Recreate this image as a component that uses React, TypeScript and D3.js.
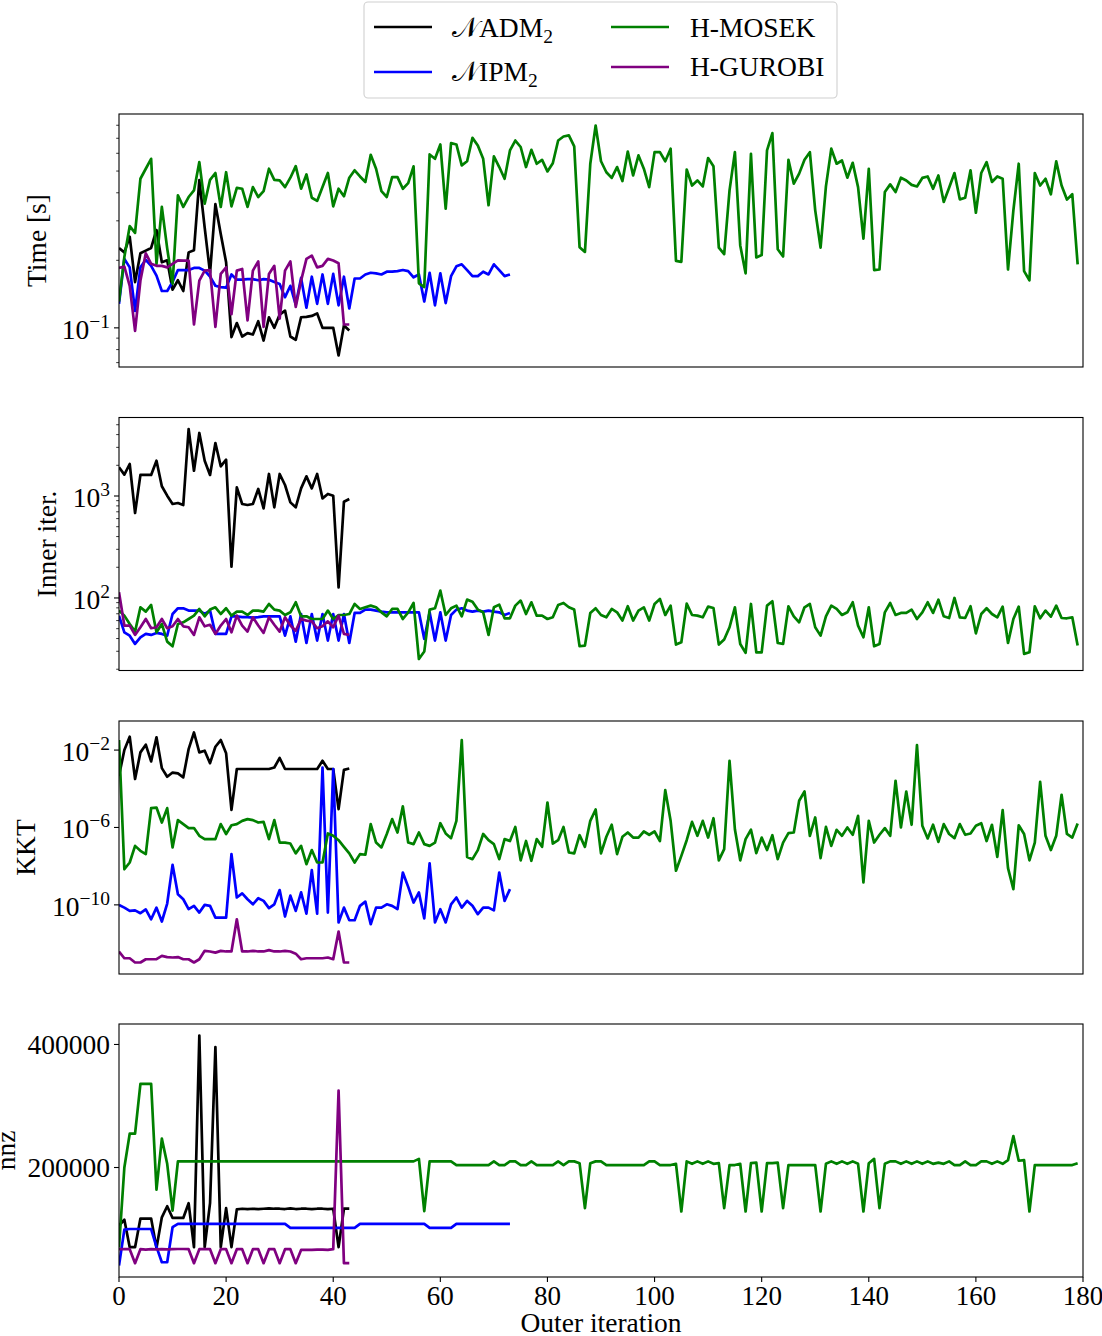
import React, { useRef, useEffect } from 'react';
import * as d3 from 'd3';

// values (index = outer iteration)
const timeADM = [
  0.227, 0.217, 0.255, 0.16, 0.215, 0.221, 0.227, 0.273, 0.196, 0.2,
  0.148, 0.163, 0.146, 0.217, 0.222, 0.456, 0.28, 0.176, 0.356, 0.262,
  0.196, 0.091, 0.105, 0.0915, 0.0947, 0.0934, 0.107, 0.0878, 0.1115, 0.1,
  0.1146, 0.1194, 0.0915, 0.0884, 0.1115, 0.112, 0.113, 0.116, 0.1, 0.1,
  0.1, 0.0753, 0.1024, 0.0973,
];
const timeIPM = [
  0.128, 0.203, 0.186, 0.119, 0.186, 0.201, 0.189, 0.171, 0.146, 0.146,
  0.16, 0.181, 0.181, 0.181, 0.185, 0.185, 0.18, 0.169, 0.154, 0.152,
  0.151, 0.173, 0.164, 0.164, 0.165, 0.165, 0.163, 0.165, 0.164, 0.16,
  0.157, 0.137, 0.154, 0.127, 0.167, 0.123, 0.169, 0.128, 0.173, 0.128,
  0.174, 0.126, 0.169, 0.122, 0.166, 0.166, 0.173, 0.176, 0.175, 0.173,
  0.178, 0.178, 0.179, 0.181, 0.179, 0.168, 0.173, 0.131, 0.176, 0.126,
  0.175, 0.129, 0.17, 0.188, 0.192, 0.181, 0.17, 0.17, 0.178, 0.173,
  0.192, 0.181, 0.17, 0.173,
];
const timeMOSEK = [
  0.131, 0.207, 0.284, 0.265, 0.462, 0.512, 0.567, 0.193, 0.346, 0.226,
  0.157, 0.39, 0.346, 0.383, 0.41, 0.548, 0.358, 0.457, 0.49, 0.346,
  0.494, 0.348, 0.421, 0.417, 0.346, 0.424, 0.383, 0.407, 0.512, 0.457,
  0.454, 0.424, 0.467, 0.526, 0.417, 0.483, 0.38, 0.368, 0.424, 0.49,
  0.348, 0.417, 0.386, 0.467, 0.504, 0.473, 0.447, 0.591, 0.512, 0.407,
  0.383, 0.47, 0.47, 0.417, 0.442, 0.525, 0.158, 0.152, 0.593, 0.567,
  0.657, 0.34, 0.666, 0.657, 0.53, 0.553, 0.703, 0.65, 0.567, 0.352,
  0.581, 0.521, 0.462, 0.618, 0.684, 0.64, 0.521, 0.622, 0.539, 0.561,
  0.498, 0.542, 0.684, 0.713, 0.721, 0.644, 0.229, 0.218, 0.539, 0.798,
  0.553, 0.494, 0.466, 0.521, 0.451, 0.611, 0.478, 0.587, 0.512, 0.424,
  0.607, 0.607, 0.553, 0.629, 0.199, 0.197, 0.508, 0.431, 0.454, 0.427,
  0.571, 0.525, 0.228, 0.213, 0.41, 0.607, 0.233, 0.175, 0.597, 0.206,
  0.211, 0.618, 0.738, 0.224, 0.208, 0.561, 0.439, 0.487, 0.561, 0.607,
  0.334, 0.228, 0.427, 0.629, 0.539, 0.557, 0.467, 0.544, 0.424, 0.25,
  0.512, 0.181, 0.182, 0.403, 0.436, 0.403, 0.467, 0.454, 0.434, 0.427,
  0.466, 0.473, 0.417, 0.478, 0.364, 0.421, 0.49, 0.374, 0.38, 0.504,
  0.326, 0.49, 0.548, 0.447, 0.473, 0.462, 0.182, 0.334, 0.539, 0.179,
  0.163, 0.49, 0.431, 0.462, 0.394, 0.552, 0.431, 0.373, 0.394, 0.192,
];
const timeGUROBI = [
  0.185, 0.1875, 0.154, 0.097, 0.1625, 0.215, 0.193, 0.189, 0.189, 0.186,
  0.193, 0.2, 0.1995, 0.1995, 0.1035, 0.1625, 0.18, 0.181, 0.101, 0.174,
  0.186, 0.115, 0.18, 0.183, 0.108, 0.18, 0.198, 0.101, 0.174, 0.189,
  0.11, 0.18, 0.198, 0.124, 0.1625, 0.203, 0.21, 0.186, 0.189, 0.203,
  0.1995, 0.194, 0.1035, 0.1035,
];

const innerADM = [
  1910, 1620, 2060, 681, 1610, 1610, 1610, 2220, 1245, 1007,
  835, 854, 816, 4540, 1770, 4150, 2220, 1610, 3310, 1955,
  2270, 203, 1216, 835, 816, 835, 1172, 757, 1644, 774,
  1644, 1282, 866, 774, 1188, 1559, 1188, 1644, 948, 1047,
  1007, 127, 879, 935,
];
const innerIPM = [
  67, 46, 42.7, 35.4, 41, 44.4, 43.4, 45.4, 44.4, 42.7,
  69.6, 79.2, 79.2, 75.2, 75.2, 75.2, 69.6, 75.2, 44.4, 44.4,
  44.4, 66.1, 66.1, 65, 65, 64.1, 65, 66.1, 66.1, 66.1,
  66.1, 42.7, 66.1, 37.3, 69.6, 36.2, 69.6, 38.2, 69.6, 38.2,
  69.6, 38.2, 69.6, 36.2, 71.3, 71.3, 76.9, 76.9, 75.2, 73.5,
  72.3, 72.3, 72.3, 72.3, 72.3, 72.3, 72.3, 39.6, 72.3, 38.2,
  72.3, 38.2, 68.1, 76.9, 79.2, 75.2, 73.5, 75.2, 73.5, 75.2,
  73.5, 72.3, 68.1, 71.3,
];
const innerMOSEK = [
  75.2, 67.1, 55.6, 46.8, 81, 73.5, 85.4, 46, 55.6, 37.3,
  33.6, 55.6, 57.7, 62.2, 67.1, 78, 66.1, 76.9, 81, 69.6,
  79.2, 67.1, 73.5, 73.5, 68.1, 75.2, 75.2, 73.5, 87.3, 76.9,
  75.2, 68.1, 72.3, 90.7, 66.1, 66.1, 62.2, 62.2, 62.2, 75.2,
  62.2, 68.1, 68.1, 69.6, 87.3, 78, 81, 84.1, 81, 72.3,
  66.1, 78, 78, 62.2, 72.3, 89.3, 25.2, 29.8, 76.9, 79.2,
  118, 68.1, 79.2, 84.1, 66.1, 96.3, 92, 76.9, 72.3, 43.4,
  81, 86, 63.2, 63.2, 84.1, 94.2, 69.6, 90.7, 67.1, 67.1,
  62.2, 64.6, 85.4, 89.3, 81, 76.9, 33.6, 34.1, 71.3, 79.2,
  68.1, 64.6, 78, 72.3, 60, 82.9, 60, 75.2, 81, 60,
  87.3, 97.8, 68.1, 84.1, 34.9, 36.8, 88, 68.1, 67.1, 64.6,
  82.2, 79.8, 34.9, 39.1, 51.6, 81, 35.4, 28.9, 87.3, 29.3,
  29.3, 84.1, 92.8, 36.2, 35.4, 82.9, 66.1, 57.7, 81, 87.3,
  51.6, 42.7, 66.1, 84.1, 78, 68.1, 72.3, 90.7, 53.6, 41.2,
  81, 33.6, 35.4, 72.3, 89.3, 68.1, 71.3, 71.3, 76.9, 62.2,
  72.3, 90.7, 71.3, 96.3, 66.1, 63.6, 100, 64.6, 63.6, 82.9,
  45, 69.6, 79.2, 69.6, 64.6, 82.2, 36.2, 62.2, 82.2, 28.3,
  29.3, 82.9, 63.2, 75.2, 65.6, 84.1, 63.6, 63.2, 64.6, 34.1,
];
const innerGUROBI = [
  113.6, 53.6, 53.6, 43.4, 51.6, 62.2, 50.5, 51.6, 62.2, 50.5,
  52.7, 62.2, 52.7, 51.6, 43.4, 64.6, 52.7, 54.6, 44.4, 53.6,
  62.2, 46, 67.1, 53.6, 46.8, 64.6, 53.6, 45.4, 64.6, 54.6,
  46.8, 64.6, 53.6, 47.7, 62.2, 60, 59, 50.5, 52.7, 59,
  51.6, 67.1, 44.4, 43.4,
];

const kktADM = [
  4.7e-4, 1e-2, 4.9e-2, 3.2e-4, 7.6e-3, 1.9e-2, 2.6e-3, 4.6e-2, 1.17e-3, 4.2e-4,
  6.9e-4, 6.2e-4, 3.9e-4, 1.12e-2, 8.1e-2, 7.6e-3, 9.3e-3, 2.1e-3, 1.48e-2, 3.3e-2,
  6.8e-3, 8.1e-6, 1.05e-3, 1.05e-3, 1.05e-3, 1.05e-3, 1.05e-3, 1.05e-3, 1.05e-3, 1.26e-3,
  3.9e-3, 1.05e-3, 1.05e-3, 1.05e-3, 1.05e-3, 1.05e-3, 1.05e-3, 1.05e-3, 2.8e-3, 1.05e-3,
  1.05e-3, 8.9e-6, 9.5e-4, 1.12e-3,
];
const kktIPM = [
  1e-10, 7.2e-11, 4.9e-11, 5.2e-11, 3.7e-11, 5.8e-11, 1.8e-11, 7.2e-11, 1.38e-11, 1.17e-10,
  1.17e-8, 3.5e-10, 1.95e-10, 6e-11, 8.9e-11, 4e-11, 1e-10, 8.9e-11, 2.2e-11, 2.2e-11,
  2.2e-11, 4.2e-8, 2.4e-10, 3.9e-10, 1.95e-10, 1.07e-10, 2.2e-10, 1.6e-10, 6.8e-11, 1.07e-10,
  5.8e-10, 2.5e-11, 3e-10, 4.9e-11, 4.4e-10, 3.5e-11, 6.2e-9, 3.5e-11, 1.26e-3, 4e-11,
  1.05e-3, 1.23e-11, 7.2e-11, 1.6e-11, 1.6e-11, 8.9e-11, 1.48e-10, 1e-11, 7.2e-11, 7.2e-11,
  1.07e-10, 8.9e-11, 6e-11, 4.7e-9, 8.5e-10, 1.32e-10, 4.4e-10, 2e-11, 1.38e-8, 1.23e-11,
  6e-11, 1.23e-11, 1.07e-10, 2.4e-10, 7.2e-11, 1.6e-10, 8.9e-11, 3.3e-11, 7.2e-11, 7.2e-11,
  5.2e-11, 4.7e-9, 1.6e-10, 6.5e-10,
];
const kktMOSEK = [
  3.3e-2, 6.9e-9, 1.55e-8, 1.12e-7, 6.2e-8, 4.2e-8, 1e-5, 1.07e-5, 1.8e-6, 1e-5,
  9.3e-8, 2.4e-6, 1.5e-6, 9.3e-7, 9.3e-7, 3.7e-7, 2.5e-7, 2.5e-7, 2.5e-7, 1.5e-6,
  4.6e-7, 1.3e-6, 1.5e-6, 2.2e-6, 2.7e-6, 2.4e-6, 1.8e-6, 1.95e-6, 2.5e-7, 2.4e-6,
  1.66e-7, 1.66e-7, 1.48e-7, 4.6e-8, 1.12e-7, 1.26e-8, 6.8e-8, 1.55e-8, 1.55e-8, 4.9e-7,
  3.7e-7, 2.2e-7, 1e-7, 4.6e-8, 1.55e-8, 4.2e-8, 3.9e-8, 1.5e-6, 1.66e-7, 9.3e-8,
  4.6e-7, 2.7e-6, 5.5e-7, 1.23e-5, 1.66e-7, 1.38e-7, 5.5e-7, 1.38e-7, 1.12e-7, 1.66e-7,
  1.66e-6, 4.9e-7, 2.8e-7, 2.2e-6, 3.3e-2, 3e-8, 2.3e-8, 6.8e-8, 4.6e-7, 2.2e-7,
  1.38e-7, 2.3e-8, 2.5e-7, 2e-7, 1.07e-6, 2e-8, 2e-7, 1.9e-8, 2.5e-7, 1e-7,
  1.95e-5, 1.48e-7, 2.2e-7, 1.07e-6, 5.1e-8, 4.6e-8, 4e-7, 1e-7, 2.2e-6, 8.5e-6,
  4.6e-8, 3.3e-7, 1.38e-6, 4.2e-8, 3.3e-7, 5.5e-7, 3e-7, 3e-7, 6.2e-7, 4.2e-7,
  6.2e-7, 2e-7, 8.5e-5, 2.2e-6, 5.8e-9, 3.4e-8, 2.2e-7, 1.95e-6, 3.7e-7, 2.2e-6,
  3e-7, 3e-6, 2e-8, 7.6e-8, 2.8e-3, 8.1e-7, 2e-8, 2.5e-7, 7.6e-7, 4.7e-8,
  3e-7, 6.8e-8, 4e-7, 2.3e-8, 1.66e-7, 5.1e-7, 5.5e-7, 2.4e-5, 7.2e-5, 3.7e-7,
  3.3e-6, 2.6e-8, 1.07e-6, 1.12e-7, 7.6e-7, 3.7e-7, 1e-6, 4.2e-7, 4e-6, 1.45e-9,
  2.2e-6, 1.66e-7, 4.2e-7, 9.3e-7, 3.7e-7, 2.6e-4, 1e-6, 7.2e-5, 1.38e-6, 1.8e-2,
  1.23e-6, 2.7e-7, 1.38e-6, 1.8e-7, 1.5e-6, 4.6e-7, 2.8e-7, 1.5e-6, 4.2e-7, 4.9e-7,
  1.23e-6, 1.66e-6, 2e-7, 1.38e-6, 3e-8, 7.9e-6, 7.9e-9, 6.5e-10, 1.3e-6, 4.6e-7,
  2e-8, 1.66e-7, 2.3e-4, 3.7e-7, 6.8e-8, 3.7e-7, 4.9e-5, 4.6e-7, 3e-7, 1.6e-6,
];
const kktGUROBI = [
  3.9e-13, 1.74e-13, 1.74e-13, 1.05e-13, 1.05e-13, 1.55e-13, 1.55e-13, 1.55e-13, 2.3e-13, 2e-13,
  1.9e-13, 2e-13, 1.55e-13, 1.55e-13, 1.05e-13, 1.55e-13, 4.2e-13, 3.9e-13, 3.4e-13, 4.2e-13,
  3.9e-13, 3.9e-13, 1.8e-11, 3.9e-13, 3.9e-13, 4.2e-13, 3.9e-13, 3.9e-13, 4.6e-13, 3.9e-13,
  3.9e-13, 4.2e-13, 3.9e-13, 3e-13, 1.55e-13, 1.74e-13, 1.74e-13, 1.74e-13, 1.74e-13, 1.9e-13,
  1.55e-13, 4.2e-12, 1.05e-13, 1.05e-13,
];

const nnzADM = [
  105700, 115000, 70500, 70500, 117000, 117000, 117000, 69000, 119000, 137000,
  118000, 118000, 118000, 142000, 70500, 414600, 70500, 142000, 395700, 70500,
  134000, 70500, 132000, 133000, 132500, 133000, 132500, 133000, 133500, 133000,
  133000, 132500, 133500, 132500, 133000, 133000, 132500, 133000, 133000, 132500,
  133000, 70500, 133000, 133000,
];
const nnzIPM = [
  40700, 99000, 100000, 100000, 100000, 100000, 100000, 71000, 46000, 46000,
  103000, 108400, 108400, 108400, 108400, 108400, 108400, 108400, 108400, 108400,
  108400, 108400, 108400, 108400, 108400, 108400, 108400, 108400, 108400, 108400,
  108400, 108400, 102000, 102000, 102000, 102000, 102000, 102000, 102000, 102000,
  102000, 102000, 102000, 102000, 102000, 108400, 108400, 108400, 108400, 108400,
  108400, 108400, 108400, 108400, 108400, 108400, 108400, 108400, 102000, 102000,
  102000, 102000, 102000, 108400, 108400, 108400, 108400, 108400, 108400, 108400,
  108400, 108400, 108400, 108400,
];
const nnzMOSEK = [
  70000, 200000, 255000, 255000, 336000, 336000, 336000, 164000, 247000, 206000,
  130000, 210000, 210000, 210000, 210000, 210000, 210000, 210000, 210000, 210000,
  210000, 210000, 210000, 210000, 210000, 210000, 210000, 210000, 210000, 210000,
  210000, 210000, 210000, 210000, 210000, 210000, 210000, 210000, 210000, 210000,
  210000, 210000, 210000, 210000, 210000, 210000, 210000, 210000, 210000, 210000,
  210000, 210000, 210000, 210000, 210000, 210000, 214000, 129000, 210000, 210000,
  210000, 210000, 210000, 204000, 204000, 204000, 204000, 204000, 204000, 204000,
  210000, 204000, 204000, 210000, 210000, 204000, 204000, 210000, 204000, 204000,
  204000, 204000, 210000, 204000, 210000, 210000, 207000, 134000, 207000, 210000,
  210000, 204000, 204000, 204000, 204000, 204000, 204000, 204000, 204000, 210000,
  210000, 204000, 204000, 204000, 206000, 128500, 210000, 206000, 210000, 206000,
  210000, 206000, 207000, 134000, 204000, 204000, 206000, 128500, 207000, 208000,
  128500, 207000, 207000, 208000, 134000, 204000, 204000, 204000, 204000, 204000,
  204000, 128500, 206000, 210000, 206000, 210000, 206000, 210000, 206000, 128500,
  207000, 214000, 134000, 206000, 210000, 210000, 206000, 210000, 206000, 210000,
  206000, 210000, 206000, 208000, 206000, 210000, 204000, 204000, 210000, 204000,
  204000, 210000, 210000, 206000, 210000, 206000, 212000, 251000, 211000, 212000,
  128500, 204000, 204000, 204000, 204000, 204000, 204000, 204000, 204000, 207000,
];
const nnzGUROBI = [
  67200, 67200, 67200, 44500, 67200, 66500, 67200, 67000, 67200, 67000,
  67200, 67500, 67500, 67200, 44500, 67200, 67200, 67200, 44500, 67200,
  67200, 44500, 67200, 67200, 44500, 67200, 67200, 44500, 67200, 67200,
  44500, 67200, 67200, 44500, 66000, 66000, 66000, 66500, 66500, 66000,
  67200, 325000, 44500, 44500,
];

const seriesColors = ['#000000', '#0000ff', '#008000', '#800080'];
const legendLabels = [
  { pre: '\u{1D4A9}', main: 'ADM', sub: '2' },
  { pre: '\u{1D4A9}', main: 'IPM', sub: '2' },
  { pre: '', main: 'H-MOSEK', sub: '' },
  { pre: '', main: 'H-GUROBI', sub: '' },
];

const xTickValues = [0, 20, 40, 60, 80, 100, 120, 140, 160, 180];
const timeTicks = [0.1];
const innerTicks = [100, 1000];
const kktTicks = [1e-10, 1e-6, 1e-2];
const nnzTicks = [200000, 400000];

const FONT = "'Liberation Serif', 'DejaVu Serif', serif";

const App: React.FC = () => {
  const svgRef = useRef<SVGSVGElement | null>(null);

  useEffect(() => {
    const W = 1102;
    const H = 1336;
    const left = 119;
    const right = 1083;
    const panelH = 253;
    const tops = [114, 417.5, 721, 1024];

    const svg = d3.select(svgRef.current!);
    svg.selectAll('*').remove();
    svg.attr('width', W).attr('height', H).attr('font-family', FONT);

    const x = d3.scaleLinear().domain([0, 180]).range([left, right]);

    const panels = [
      { label: 'Time [s]', log: true, minor: true, ticks: timeTicks, labelX: 46,
        data: [timeADM, timeIPM, timeMOSEK, timeGUROBI] },
      { label: 'Inner iter.', log: true, minor: true, ticks: innerTicks, labelX: 56,
        data: [innerADM, innerIPM, innerMOSEK, innerGUROBI] },
      { label: 'KKT', log: true, minor: false, ticks: kktTicks, labelX: 35,
        data: [kktADM, kktIPM, kktMOSEK, kktGUROBI] },
      { label: 'nnz', log: false, minor: false, ticks: nnzTicks, labelX: 15,
        data: [nnzADM, nnzIPM, nnzMOSEK, nnzGUROBI] },
    ];

    panels.forEach((p, pi) => {
      const top = tops[pi];
      const bottom = top + panelH;
      // matplotlib-like 5% margins (in log space for log axes)
      const f = p.log ? Math.log10 : (v: number) => v;
      const inv = p.log ? (v: number) => Math.pow(10, v) : (v: number) => v;
      const [lo, hi] = d3.extent(p.data.flat().map(f)) as [number, number];
      const pad = (hi - lo) * 0.05;
      const domain = [inv(lo - pad), inv(hi + pad)];
      const y = (p.log ? d3.scaleLog() : d3.scaleLinear()).domain(domain).range([bottom, top]);

      const g = svg.append('g');

      const clipId = `clip-${pi}`;
      g.append('clipPath').attr('id', clipId)
        .append('rect').attr('x', left).attr('y', top)
        .attr('width', right - left).attr('height', panelH);

      const line = d3.line<number>()
        .x((_, i) => x(i))
        .y((d) => y(d));

      const lines = g.append('g').attr('clip-path', `url(#${clipId})`);
      p.data.forEach((series, si) => {
        lines.append('path')
          .attr('d', line(series) as string)
          .attr('fill', 'none')
          .attr('stroke', seriesColors[si])
          .attr('stroke-width', 2.7)
          .attr('stroke-linejoin', 'round');
      });

      g.append('rect')
        .attr('x', left).attr('y', top)
        .attr('width', right - left).attr('height', panelH)
        .attr('fill', 'none').attr('stroke', '#000').attr('stroke-width', 1.1);

      if (p.minor) {
        const d0 = Math.floor(Math.log10(domain[0]));
        const d1 = Math.ceil(Math.log10(domain[1]));
        for (let d = d0; d <= d1; d++) {
          for (let k = 2; k <= 9; k++) {
            const v = k * Math.pow(10, d);
            if (v < domain[0] || v > domain[1]) continue;
            g.append('line')
              .attr('x1', left).attr('x2', left - 2.8)
              .attr('y1', y(v)).attr('y2', y(v))
              .attr('stroke', '#000').attr('stroke-width', 0.8);
          }
        }
      }

      p.ticks.forEach((v) => {
        const ty = y(v);
        g.append('line')
          .attr('x1', left).attr('x2', left - 5)
          .attr('y1', ty).attr('y2', ty)
          .attr('stroke', '#000').attr('stroke-width', 1.1);
        if (p.log) {
          const e = Math.round(Math.log10(v));
          const t = g.append('text')
            .attr('x', left - 9).attr('y', ty + 11)
            .attr('text-anchor', 'end')
            .attr('font-size', 27.5);
          t.append('tspan').text('10');
          t.append('tspan').attr('dy', -11).attr('font-size', 19.5)
            .text(String(e).replace('-', '\u2212'));
        } else {
          g.append('text')
            .attr('x', left - 9).attr('y', ty + 9.5)
            .attr('text-anchor', 'end')
            .attr('font-size', 27.5)
            .text(String(v));
        }
      });

      g.append('text')
        .attr('transform', `translate(${p.labelX},${(top + bottom) / 2}) rotate(-90)`)
        .attr('text-anchor', 'middle')
        .attr('font-size', 27.5)
        .text(p.label);

      if (pi === panels.length - 1) {
        xTickValues.forEach((v) => {
          g.append('line')
            .attr('x1', x(v)).attr('x2', x(v))
            .attr('y1', bottom).attr('y2', bottom + 5)
            .attr('stroke', '#000').attr('stroke-width', 1.1);
          g.append('text')
            .attr('x', x(v)).attr('y', bottom + 28)
            .attr('text-anchor', 'middle')
            .attr('font-size', 27)
            .text(String(v));
        });
        g.append('text')
          .attr('x', (left + right) / 2).attr('y', 1332)
          .attr('text-anchor', 'middle')
          .attr('font-size', 27.5)
          .text('Outer iteration');
      }
    });

    // legend, two columns
    const lg = svg.append('g');
    lg.append('rect')
      .attr('x', 364).attr('y', 2)
      .attr('width', 473).attr('height', 96)
      .attr('rx', 4)
      .attr('fill', '#fff').attr('fill-opacity', 0.8)
      .attr('stroke', '#d0d0d0').attr('stroke-width', 1.1);

    const handleX = [374, 611];
    const textX = [452, 690];
    const rowY = [[27, 72], [27, 67]];
    const baseY = [[37, 81], [37, 76]];
    legendLabels.forEach((lab, i) => {
      const col = i < 2 ? 0 : 1;
      const row = i % 2;
      lg.append('line')
        .attr('x1', handleX[col]).attr('x2', handleX[col] + 58)
        .attr('y1', rowY[col][row]).attr('y2', rowY[col][row])
        .attr('stroke', seriesColors[i]).attr('stroke-width', 2.7);
      const t = lg.append('text')
        .attr('x', textX[col]).attr('y', baseY[col][row])
        .attr('font-size', 27.5);
      if (lab.pre) {
        t.append('tspan').attr('font-family', "'DejaVu Sans', 'Noto Sans', serif").text(lab.pre);
      }
      t.append('tspan').text(lab.main);
      if (lab.sub) {
        t.append('tspan').attr('dy', 6).attr('font-size', 19.5).text(lab.sub);
      }
    });
  }, []);

  return (
    <svg
      ref={svgRef}
      style={{ position: 'absolute', left: 0, top: 0, background: '#fff' }}
    />
  );
};

export default App;
